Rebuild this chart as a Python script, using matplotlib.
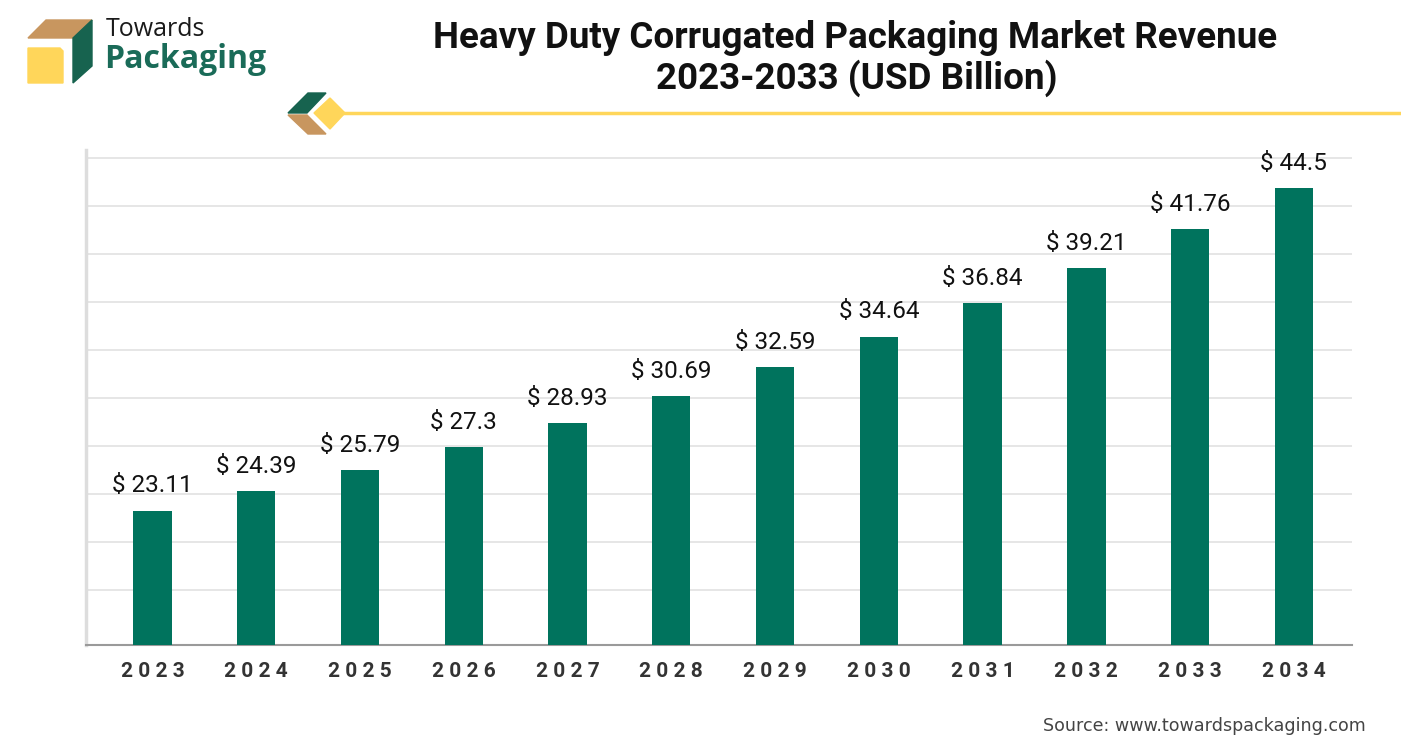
import numpy as np
import matplotlib
matplotlib.use("Agg")
import matplotlib.pyplot as plt
from matplotlib.patches import Polygon
from matplotlib.lines import Line2D

# Data
years = ["2023", "2024", "2025", "2026", "2027", "2028",
         "2029", "2030", "2031", "2032", "2033", "2034"]
revenue = [23.11, 24.39, 25.79, 27.3, 28.93, 30.69,
           32.59, 34.64, 36.84, 39.21, 41.76, 44.5]
labels = ["$ 23.11", "$ 24.39", "$ 25.79", "$ 27.3", "$ 28.93", "$ 30.69",
          "$ 32.59", "$ 34.64", "$ 36.84", "$ 39.21", "$ 41.76", "$ 44.5"]

GREEN = "#00735D"
DARK_GREEN = "#17634F"
TAN = "#C8965F"
YELLOW = "#FFD65A"

W, H = 1401, 751
fig = plt.figure(figsize=(W / 100, H / 100), dpi=100)
fig.patch.set_facecolor("white")


def px(x, y):
    # pixel coords (top-left origin) -> figure fraction
    return (x / W, 1 - y / H)


# Main axes
ax = fig.add_axes([86 / W, (H - 645) / H, (1352 - 86) / W, (645 - 150) / H])
x = np.arange(len(years))
ax.bar(x, revenue, width=0.37, color=GREEN, zorder=3)
ax.set_xlim(-0.64, len(years) - 1 + 0.56)
ax.set_ylim(14.2, 47.0)
ax.set_yticks(np.arange(17.85, 47.0, 3.18))
ax.yaxis.grid(True, color="#e2e2e2", linewidth=1.2, zorder=0)
ax.tick_params(axis="y", left=False, labelleft=False)
ax.tick_params(axis="x", bottom=False, pad=9)
ax.set_xticks(x)
ax.set_xticklabels([" ".join(y) for y in years], fontfamily="Roboto",
                   fontweight="bold", fontsize=15, color="#333333")
for s in ["top", "right"]:
    ax.spines[s].set_visible(False)
ax.spines["left"].set_color("#dddddd")
ax.spines["left"].set_linewidth(2.5)
ax.spines["bottom"].set_color("#9a9a9a")
ax.spines["bottom"].set_linewidth(1.5)

for xi, v, lab in zip(x, revenue, labels):
    ax.annotate(lab, (xi, v), xytext=(0, 13), textcoords="offset points",
                ha="center", va="baseline", fontsize=17.5,
                fontfamily="Roboto", color="#111111")

# Title
fig.text(*px(855, 38), "Heavy Duty Corrugated Packaging Market Revenue",
         ha="center", va="center", fontsize=26.5, fontweight="bold",
         fontfamily="Roboto", color="#111111")
fig.text(*px(857, 78), "2023-2033 (USD Billion)",
         ha="center", va="center", fontsize=26.5, fontweight="bold",
         fontfamily="Roboto", color="#111111")

# Logo
fig.patches.append(Polygon([px(28, 38), px(46, 20), px(92, 20), px(73, 38)],
                           closed=True, color=TAN, transform=fig.transFigure))
fig.patches.append(Polygon([px(73, 38), px(92, 20), px(92, 66), px(73, 83)],
                           closed=True, color=DARK_GREEN, transform=fig.transFigure))
fig.patches.append(Polygon([px(28, 48), px(60, 48), px(63, 51), px(63, 83), px(28, 83)],
                           closed=True, color=YELLOW, transform=fig.transFigure))
fig.text(*px(106, 29), "Towards", ha="left", va="center", fontsize=18,
         fontfamily="Open Sans", color="#1a1a1a")
fig.text(*px(104, 59), "Packaging", ha="left", va="center", fontsize=23,
         fontfamily="Open Sans", fontweight="bold", color="#1A6B58")

# Decoration: chevron, diamond and yellow rule
fig.patches.append(Polygon([px(288, 113), px(308, 93), px(326, 93), px(307, 113)],
                           closed=True, color=DARK_GREEN, transform=fig.transFigure))
fig.patches.append(Polygon([px(288, 115), px(307, 115), px(326, 134), px(308, 134)],
                           closed=True, color=TAN, transform=fig.transFigure))
fig.patches.append(Polygon([px(314, 113), px(330, 98), px(345, 113), px(330, 129)],
                           closed=True, color=YELLOW, transform=fig.transFigure))
fig.lines.append(Line2D([343 / W, 1.0], [1 - 113 / H, 1 - 113 / H], color=YELLOW,
                        linewidth=2.5, transform=fig.transFigure))

# Source
fig.text(*px(1366, 726), "Source: www.towardspackaging.com", ha="right",
         va="center", fontsize=12.6, fontfamily="DejaVu Sans", color="#444444")

fig.savefig("out.png", dpi=100, facecolor="white")
